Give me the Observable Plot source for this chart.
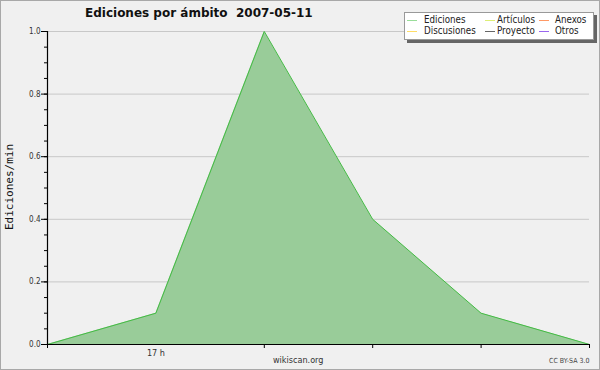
<!DOCTYPE html>
<html>
<head>
<meta charset="utf-8">
<script src="https://cdn.jsdelivr.net/npm/d3@7"></script>
<script src="https://cdn.jsdelivr.net/npm/@observablehq/plot@0.6"></script>
<style>
  html, body { margin: 0; padding: 0; background: #f0f0f0; }
  #wrap { position: relative; width: 600px; height: 370px; overflow: hidden; }
  #wrap svg { position: absolute; left: 0; top: 0; }
  #border { position: absolute; left: 0; top: 0; width: 598px; height: 368px; border: 1px solid #a8a8a8; pointer-events: none; }
  .t { position: absolute; white-space: nowrap; font-family: "DejaVu Sans", sans-serif; }
  #title { left: 85px; top: 6px; font-size: 12px; font-weight: bold; color: #111; }
  #ylab { left: 3px; top: 187px; font-family: "DejaVu Sans Mono", monospace; font-size: 11px; color: #111; transform-origin: 0 0; transform: rotate(-90deg) translate(-50%, 0); }
  #site { left: 273px; top: 355px; font-size: 9px; color: #333; font-family: "DejaVu Sans Condensed", "DejaVu Sans", sans-serif; }
  #cc { left: 549px; top: 357px; font-size: 7px; color: #444; font-family: "DejaVu Sans Condensed", "DejaVu Sans", sans-serif; }
  #legend { position: absolute; left: 404px; top: 12px; width: 188px; height: 26px; background: #fff; border: 1px solid #999; box-shadow: 3px 3px 0 #666; font-family: "DejaVu Sans Condensed", "DejaVu Sans", sans-serif; font-size: 9.7px; color: #222; }
  .li { position: absolute; height: 12px; line-height: 12px; }
  .li span.sw { position: absolute; left: 0; top: 6px; width: 10px; height: 1px; }
  .li span.lb { position: absolute; white-space: nowrap; }
</style>
</head>
<body>
<div id="wrap">
  <div id="chart"></div>
  <div class="t" id="title">Ediciones por ámbito&nbsp;&nbsp;2007-05-11</div>
  <div class="t" id="ylab">Ediciones/min</div>
  <div class="t" id="site">wikiscan.org</div>
  <div class="t" id="cc">CC BY-SA 3.0</div>
  <div id="legend"></div>
  <div id="border"></div>
</div>
<script>
// Data
const hours = [16, 17, 18, 19, 20, 21];
const edits = [0, 0.1, 1.0, 0.4, 0.1, 0];
const yMajorTicks = [0, 0.2, 0.4, 0.6, 0.8, 1.0];
const yMinorTicks = d3.range(0, 1.0001, 0.05).map(v => +v.toFixed(2));
const xTicks = [16, 18, 19, 20, 21];
const xLabelTicks = [17];
const xLabelText = ["17 h"];
const legendNames = ["Ediciones", "Artículos", "Anexos", "Discusiones", "Proyecto", "Otros"];
const legendColors = ["#99dd99", "#ddee77", "#ff9966", "#ffdd66", "#666666", "#9966ee"];

const data = hours.map((h, i) => ({h, v: edits[i]}));

const chart = Plot.plot({
  width: 600,
  height: 370,
  marginLeft: 47,
  marginRight: 11,
  marginTop: 31,
  marginBottom: 26,
  style: {background: "transparent", fontFamily: "DejaVu Sans Condensed, DejaVu Sans, sans-serif", fontSize: "8px", color: "#333"},
  x: {domain: [16, 21]},
  y: {domain: [0, 1]},
  marks: [
    Plot.ruleY(yMajorTicks.filter(d => d > 0), {stroke: "#c8c8c8", strokeWidth: 1}),
    Plot.areaY(data, {x: "h", y: "v", fill: "#99cc99", fillOpacity: 1}),
    Plot.lineY(data, {x: "h", y: "v", stroke: "#44bb44", strokeWidth: 1}),
    Plot.axisY(yMinorTicks, {tickSize: 3, tickFormat: () => "", stroke: "#000", label: null}),
    Plot.axisY(yMajorTicks, {tickSize: 6, tickPadding: 1, tickFormat: d3.format(".1f"), stroke: "#000", fill: "#333", label: null}),
    Plot.axisX(xTicks, {tickSize: 4, tickFormat: () => "", stroke: "#000", label: null}),
    Plot.axisX(xLabelTicks, {tickSize: 0, tickPadding: 5, tickFormat: (d, i) => xLabelText[i], fill: "#333", fontSize: 9, label: null}),
    Plot.ruleX([16], {stroke: "#000", strokeWidth: 1.2}),
    Plot.ruleY([0], {stroke: "#000", strokeWidth: 1.2})
  ]
});
document.getElementById("chart").appendChild(chart);

// Legend
const leg = document.getElementById("legend");
const colX = [2, 80, 134];
const labX = [19, 92, 150];
const rowY = [1, 12];
legendNames.forEach((name, i) => {
  const c = i % 3, r = Math.floor(i / 3);
  const d = document.createElement("div");
  d.className = "li";
  d.style.left = colX[c] + "px";
  d.style.top = rowY[r] + "px";
  const sw = document.createElement("span");
  sw.className = "sw";
  sw.style.background = legendColors[i];
  const lb = document.createElement("span");
  lb.className = "lb";
  lb.style.left = (labX[c] - colX[c]) + "px";
  lb.textContent = name;
  d.appendChild(sw);
  d.appendChild(lb);
  leg.appendChild(d);
});
</script>
</body>
</html>
